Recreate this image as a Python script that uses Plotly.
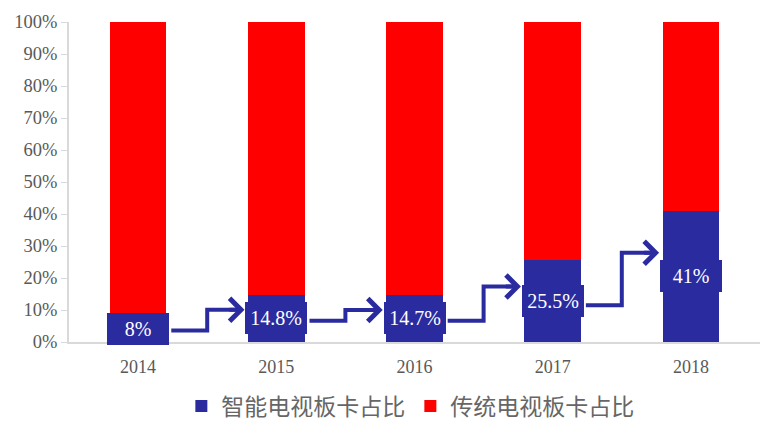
import plotly.graph_objects as go

years = ["2014", "2015", "2016", "2017", "2018"]
smart_share = [8, 14.8, 14.7, 25.5, 41]
trad_share = [100 - v for v in smart_share]
smart_labels = ["8%", "14.8%", "14.7%", "25.5%", "41%"]
y_ticks = list(range(0, 101, 10))

BLUE = "#2B2BA0"
RED = "#FF0000"
GRAY = "#595959"
SERIF = "Liberation Serif, Times New Roman, serif"
SANS = "Noto Sans CJK SC, sans-serif"

fig = go.Figure()
fig.add_trace(go.Bar(x=list(range(len(years))), y=smart_share, name="智能电视板卡占比",
                     marker=dict(color=BLUE, line=dict(width=0))))
fig.add_trace(go.Bar(x=list(range(len(years))), y=trad_share, name="传统电视板卡占比",
                     marker=dict(color=RED, line=dict(width=0))))

# value label boxes
for i, (v, lab) in enumerate(zip(smart_share, smart_labels)):
    fig.add_annotation(x=i, y=v / 2, text=lab, showarrow=False,
                       font=dict(family=SERIF, size=20, color="white"),
                       bgcolor=BLUE, bordercolor=BLUE, width=58, height=28,
                       xref="x", yref="y")

# step arrows between bars
half = 0.21
for i in range(len(years) - 1):
    y0 = smart_share[i] * 0.45
    y1 = smart_share[i + 1] * 0.68
    xs = i + half + 0.03
    xm = i + 0.5
    xe = i + 1 - half - 0.02
    fig.add_shape(type="path",
                  path=f"M {xs},{y0} L {xm},{y0} L {xm},{y1} L {xe - 0.03},{y1}",
                  line=dict(color=BLUE, width=4), xref="x", yref="y")
    fig.add_annotation(x=xe, y=y1, ax=xe - 0.12, ay=y1, xref="x", yref="y",
                       axref="x", ayref="y", text="", showarrow=True,
                       arrowhead=4, arrowsize=1.1, arrowwidth=4, arrowcolor=BLUE)

fig.update_layout(
    barmode="stack",
    bargap=0.59,
    width=783, height=442,
    margin=dict(l=69, r=23, t=22, b=100),
    paper_bgcolor="white", plot_bgcolor="white",
    showlegend=True,
    legend=dict(orientation="h", x=0.494, xanchor="center", y=-0.2, yanchor="middle",
                font=dict(family=SANS, size=23, color="#666666"), itemwidth=30,
                traceorder="normal"),
    xaxis=dict(tickmode="array", tickvals=list(range(len(years))), ticktext=years,
               range=[-0.5, len(years) - 0.5], showline=True, linecolor="#D9D9D9",
               linewidth=2, ticks="", showgrid=False, zeroline=False,
               tickfont=dict(family=SERIF, size=18, color=GRAY),
               ticklabelstandoff=7, automargin=False),
    yaxis=dict(range=[0, 100], tickvals=y_ticks, ticktext=[f"{t}%" for t in y_ticks],
               showline=True, linecolor="#D9D9D9", linewidth=2, ticks="outside",
               ticklen=6, tickcolor="#D9D9D9", showgrid=False, zeroline=False,
               tickfont=dict(family=SERIF, size=18.5, color=GRAY), automargin=False),
)

fig.write_html("out.html", config={"displayModeBar": False},
               post_script="document.body.style.margin='0';")
